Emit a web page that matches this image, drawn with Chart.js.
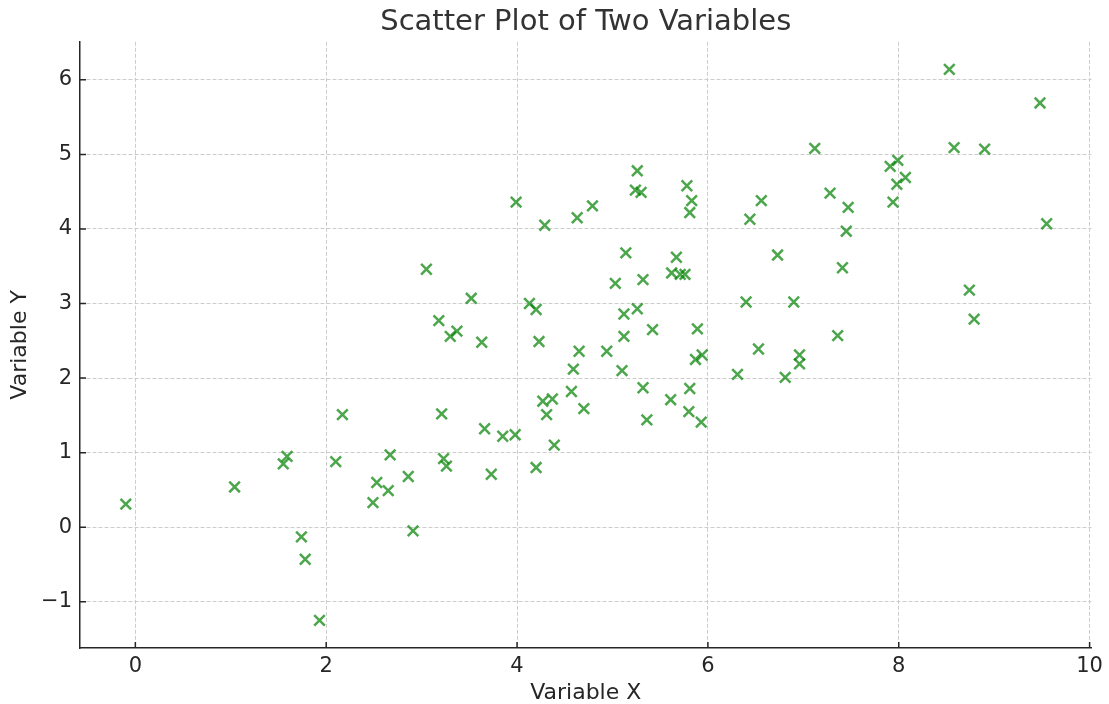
<!DOCTYPE html>
<html>
<head>
<meta charset="utf-8">
<script src="https://cdn.jsdelivr.net/npm/chart.js@4.4.1/dist/chart.umd.min.js"></script>
<style>
  html, body { margin: 0; padding: 0; background: white; }
  #wrap { width: 1109px; height: 704px; }
</style>
</head>
<body>
<div id="wrap"><canvas id="scatter" width="1109" height="704"></canvas></div>
<script>
// values
var xValues = [
  -0.10, 1.04, 1.55, 1.59, 1.74, 1.78, 1.93, 2.10, 2.17, 2.49,
  2.53, 2.65, 2.67, 2.86, 2.91, 3.21, 3.23, 3.26, 3.05, 3.18,
  3.30, 3.37, 3.52, 3.63, 3.66, 3.73, 3.85, 3.98, 3.99, 4.13,
  4.20, 4.20, 4.23, 4.29, 4.27, 4.37, 4.31, 4.39, 4.57, 4.59,
  4.63, 4.65, 4.70, 4.79, 4.94, 5.03, 5.10, 5.12, 5.12, 5.14,
  5.26, 5.24, 5.30, 5.26, 5.32, 5.32, 5.36, 5.42, 5.61, 5.62,
  5.67, 5.71, 5.76, 5.78, 5.83, 5.81, 5.81, 5.80, 5.89, 5.87,
  5.94, 5.93, 6.31, 6.40, 6.44, 6.56, 6.53, 6.73, 6.81, 6.90,
  6.96, 6.96, 7.12, 7.28, 7.36, 7.41, 7.45, 7.47, 7.91, 7.99,
  7.98, 8.07, 7.94, 8.53, 8.58, 8.90, 8.74, 8.79, 9.48, 9.55
];
var yValues = [
  0.31, 0.54, 0.85, 0.95, -0.13, -0.43, -1.25, 0.88, 1.51, 0.33,
  0.60, 0.49, 0.97, 0.68, -0.05, 1.52, 0.92, 0.82, 3.46, 2.77,
  2.56, 2.63, 3.07, 2.48, 1.32, 0.71, 1.22, 1.24, 4.36, 3.00,
  2.92, 0.80, 2.49, 4.05, 1.69, 1.72, 1.51, 1.10, 1.82, 2.12,
  4.15, 2.36, 1.59, 4.31, 2.36, 3.27, 2.10, 2.86, 2.56, 3.68,
  4.78, 4.52, 4.49, 2.93, 3.32, 1.87, 1.44, 2.65, 1.71, 3.41,
  3.62, 3.39, 3.39, 4.58, 4.38, 4.22, 1.86, 1.55, 2.66, 2.25,
  2.31, 1.41, 2.05, 3.02, 4.13, 4.38, 2.39, 3.65, 2.01, 3.02,
  2.31, 2.19, 5.08, 4.48, 2.57, 3.48, 3.97, 4.29, 4.84, 4.92,
  4.60, 4.69, 4.36, 6.14, 5.09, 5.07, 3.18, 2.79, 5.69, 4.07
];
var xTicks = [0, 2, 4, 6, 8, 10];
var yTicks = [-1, 0, 1, 2, 3, 4, 5, 6];

var points = xValues.map(function (x, i) {
  return { x: x, y: yValues[i] };
});

var axisColor = "#262626";
var gridColor = "#cccccc";
var fontFamily = "'DejaVu Sans', sans-serif";

// matplotlib style ticks pointing into the plot
var innerTicks = {
  id: "innerTicks",
  afterDraw: function (chart) {
    var ctx = chart.ctx;
    var area = chart.chartArea;
    var xs = chart.scales.x;
    var ys = chart.scales.y;
    ctx.save();
    ctx.strokeStyle = axisColor;
    ctx.lineWidth = 1.5;
    ctx.beginPath();
    xTicks.forEach(function (v) {
      var px = xs.getPixelForValue(v);
      ctx.moveTo(px, area.bottom);
      ctx.lineTo(px, area.bottom - 6);
    });
    yTicks.forEach(function (v) {
      var py = ys.getPixelForValue(v);
      ctx.moveTo(area.left, py);
      ctx.lineTo(area.left + 6, py);
    });
    ctx.stroke();
    ctx.restore();
  }
};

new Chart("scatter", {
  type: "scatter",
  data: {
    datasets: [{
      label: "points",
      data: points,
      pointStyle: "crossRot",
      pointRadius: 7.5,
      pointHoverRadius: 7.5,
      borderColor: "rgba(0,128,0,0.7)",
      backgroundColor: "rgba(0,128,0,0.7)",
      borderWidth: 2.5
    }]
  },
  options: {
    responsive: false,
    animation: false,
    events: [],
    layout: {
      padding: { left: 0, right: 15, top: 0, bottom: 0 }
    },
    plugins: {
      legend: { display: false },
      tooltip: { enabled: false },
      title: {
        display: true,
        text: "Scatter Plot of Two Variables",
        fullSize: false,
        color: "#333333",
        font: { family: fontFamily, size: 29, weight: "normal" },
        padding: { top: 5, bottom: 2 }
      }
    },
    scales: {
      x: {
        type: "linear",
        min: -0.58,
        max: 10.02,
        afterBuildTicks: function (scale) {
          scale.ticks = xTicks.map(function (v) { return { value: v }; });
        },
        afterFit: function (scale) {
          scale.height = 56;
        },
        ticks: {
          color: axisColor,
          font: { family: fontFamily, size: 21 },
          padding: 6,
          maxRotation: 0
        },
        grid: {
          color: gridColor,
          lineWidth: 1,
          drawTicks: false
        },
        border: {
          display: true,
          color: axisColor,
          width: 1.5,
          dash: [4, 2]
        },
        title: {
          display: true,
          text: "Variable X",
          color: axisColor,
          font: { family: fontFamily, size: 22, lineHeight: 1.0 },
          padding: { top: 0, bottom: 0 }
        }
      },
      y: {
        type: "linear",
        min: -1.62,
        max: 6.51,
        afterBuildTicks: function (scale) {
          scale.ticks = yTicks.map(function (v) { return { value: v }; });
        },
        afterFit: function (scale) {
          scale.width = 80;
        },
        ticks: {
          color: axisColor,
          font: { family: fontFamily, size: 21 },
          padding: 8,
          callback: function (v) {
            return v < 0 ? "\u2212" + Math.abs(v) : String(v);
          }
        },
        grid: {
          color: gridColor,
          lineWidth: 1,
          drawTicks: false
        },
        border: {
          display: true,
          color: axisColor,
          width: 1.5,
          dash: [4, 2]
        },
        title: {
          display: true,
          text: "Variable Y",
          color: axisColor,
          font: { family: fontFamily, size: 22 },
          padding: { top: 7, bottom: 0 }
        }
      }
    }
  },
  plugins: [innerTicks]
});
</script>
</body>
</html>
